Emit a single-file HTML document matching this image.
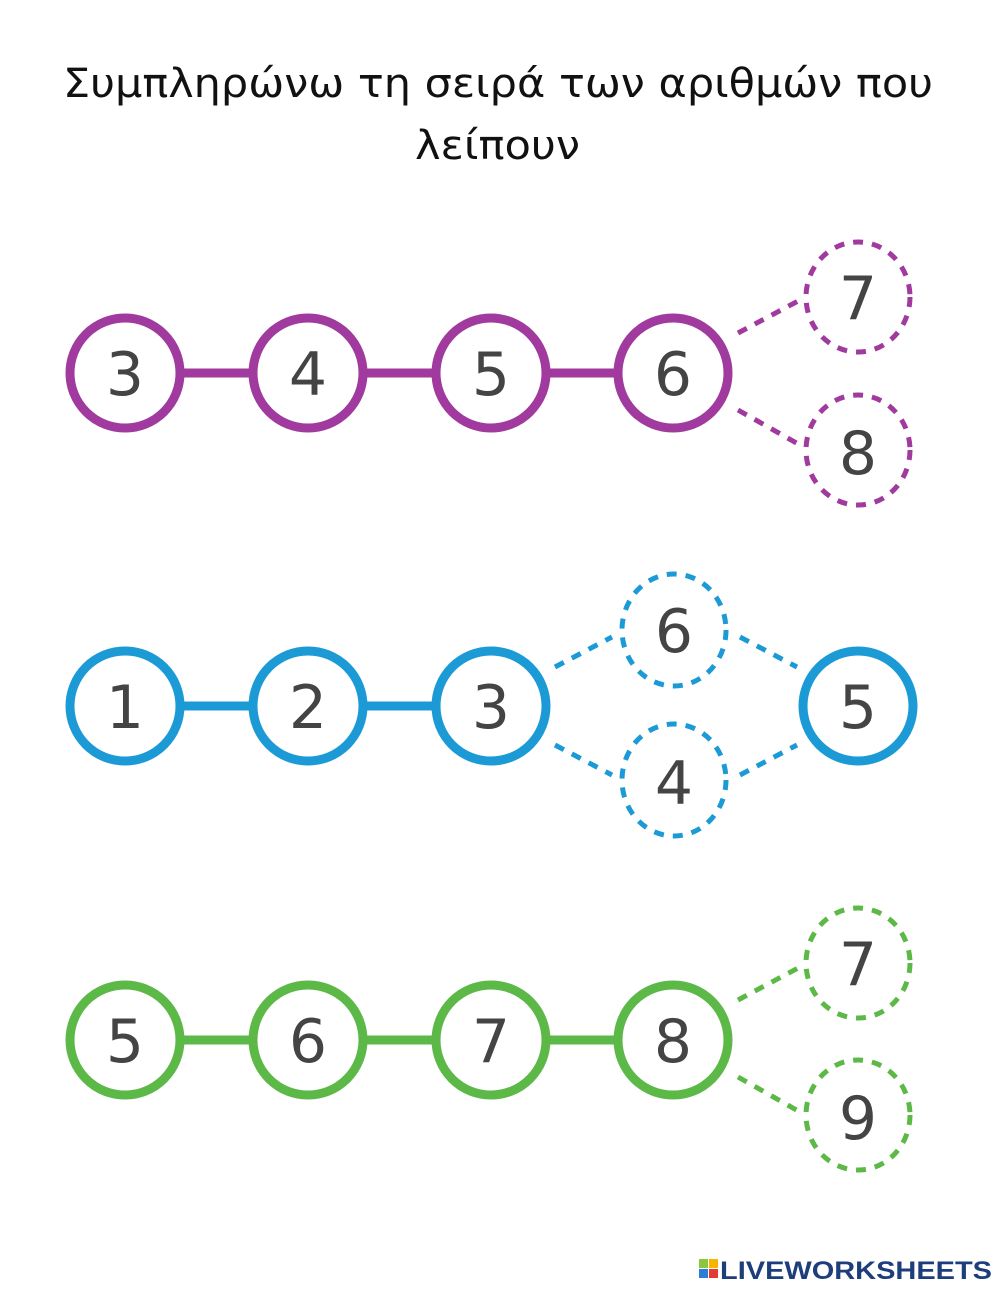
<!DOCTYPE html>
<html><head><meta charset="utf-8"><style>
html,body{margin:0;padding:0;background:#fff;}
svg{display:block}
</style></head><body>
<svg width="1000" height="1291" viewBox="0 0 1000 1291" xmlns="http://www.w3.org/2000/svg">
<rect width="1000" height="1291" fill="#fff"/>
<text x="63" y="97" font-family="DejaVu Sans, Liberation Sans, sans-serif" font-size="40" fill="#111" textLength="870" lengthAdjust="spacingAndGlyphs">Συμπληρώνω τη σειρά των αριθμών που</text>
<text x="415" y="159" font-family="DejaVu Sans, Liberation Sans, sans-serif" font-size="40" fill="#111" textLength="165" lengthAdjust="spacingAndGlyphs">λείπουν</text>

<g font-family="DejaVu Sans, Liberation Sans, sans-serif" font-size="60" fill="#444" text-anchor="middle">
<!-- Row 1 purple -->
<g stroke="#a03a9e" fill="none">
<line x1="180" y1="373" x2="620" y2="373" stroke-width="9"/>
<circle cx="125" cy="373" r="55" stroke-width="9" fill="#fff"/>
<circle cx="308" cy="373" r="55" stroke-width="9" fill="#fff"/>
<circle cx="491" cy="373" r="55" stroke-width="9" fill="#fff"/>
<circle cx="673" cy="373" r="55" stroke-width="9" fill="#fff"/>
<g stroke-width="5" stroke-dasharray="10,9">
<line x1="738" y1="333" x2="800" y2="300"/>
<line x1="738" y1="410" x2="800" y2="445"/>
<ellipse cx="858" cy="297" rx="52" ry="55"/>
<ellipse cx="858" cy="450" rx="52" ry="55"/>
</g>
</g>
<text x="125" y="395">3</text><text x="308" y="395">4</text><text x="491" y="395">5</text><text x="673" y="395">6</text>
<text x="858" y="319">7</text><text x="858" y="474">8</text>

<!-- Row 2 blue -->
<g stroke="#1b9ad6" fill="none">
<line x1="180" y1="706" x2="440" y2="706" stroke-width="9"/>
<circle cx="125" cy="706" r="55" stroke-width="9" fill="#fff"/>
<circle cx="308" cy="706" r="55" stroke-width="9" fill="#fff"/>
<circle cx="491" cy="706" r="55" stroke-width="9" fill="#fff"/>
<circle cx="858" cy="706" r="55" stroke-width="9" fill="#fff"/>
<g stroke-width="5" stroke-dasharray="10,9">
<line x1="555" y1="667" x2="612" y2="637"/>
<line x1="740" y1="637" x2="797" y2="667"/>
<line x1="555" y1="745" x2="612" y2="775"/>
<line x1="740" y1="775" x2="797" y2="745"/>
<ellipse cx="674" cy="630" rx="52" ry="56"/>
<ellipse cx="674" cy="780" rx="52" ry="56"/>
</g>
</g>
<text x="125" y="728">1</text><text x="308" y="728">2</text><text x="491" y="728">3</text><text x="858" y="728">5</text>
<text x="674" y="652">6</text><text x="674" y="804">4</text>

<!-- Row 3 green -->
<g stroke="#5cb948" fill="none">
<line x1="180" y1="1040" x2="620" y2="1040" stroke-width="9"/>
<circle cx="125" cy="1040" r="55" stroke-width="9" fill="#fff"/>
<circle cx="308" cy="1040" r="55" stroke-width="9" fill="#fff"/>
<circle cx="491" cy="1040" r="55" stroke-width="9" fill="#fff"/>
<circle cx="673" cy="1040" r="55" stroke-width="9" fill="#fff"/>
<g stroke-width="5" stroke-dasharray="10,9">
<line x1="738" y1="1000" x2="800" y2="967"/>
<line x1="738" y1="1077" x2="800" y2="1112"/>
<ellipse cx="858" cy="963" rx="52" ry="55"/>
<ellipse cx="858" cy="1115" rx="52" ry="55"/>
</g>
</g>
<text x="125" y="1062">5</text><text x="308" y="1062">6</text><text x="491" y="1062">7</text><text x="673" y="1062">8</text>
<text x="858" y="985">7</text><text x="858" y="1139">9</text>
</g>

<!-- logo -->
<rect x="699" y="1259" width="9" height="9" fill="#8cc63f"/>
<rect x="709" y="1259" width="9" height="9" fill="#f7b500"/>
<rect x="699" y="1269" width="9" height="9" fill="#2a7fd4"/>
<rect x="709" y="1269" width="9" height="9" fill="#e53935"/>
<text x="720" y="1279" font-family="Liberation Sans, sans-serif" font-weight="bold" font-size="25" fill="#1e3d7b" textLength="272" lengthAdjust="spacingAndGlyphs">LIVEWORKSHEETS</text>
</svg>
</body></html>
